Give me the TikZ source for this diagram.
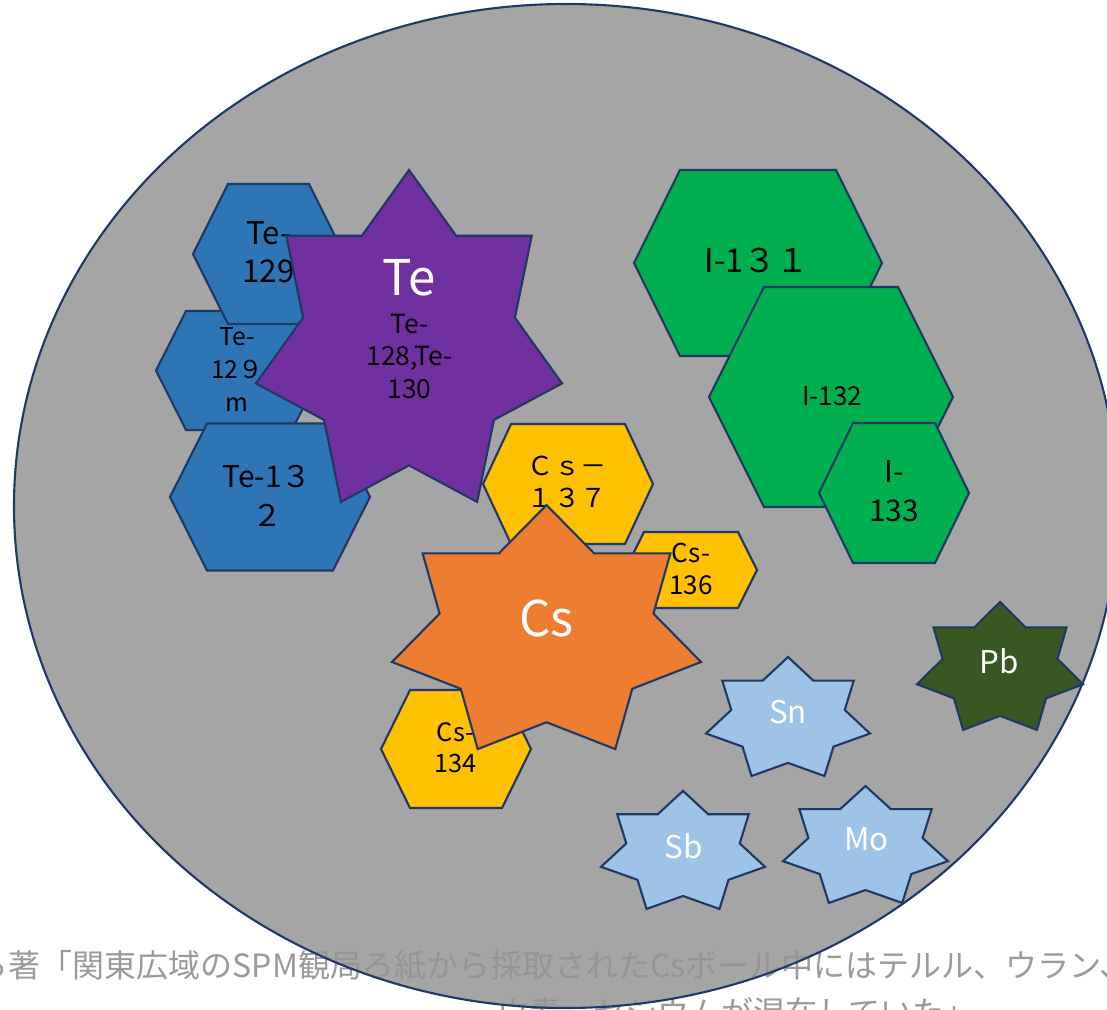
\documentclass[tikz,border=0pt]{standalone}
\usepackage{fontspec}
\setmainfont{Noto Sans CJK JP}
\usepackage{tikz}

\definecolor{rim}{HTML}{203864}
\definecolor{discgray}{HTML}{959595}
\definecolor{capgray}{HTML}{9A9A9A}
\definecolor{teblue}{HTML}{2E75B6}
\definecolor{tepurple}{HTML}{7030A0}
\definecolor{igreen}{HTML}{00B050}
\definecolor{csyellow}{HTML}{FFC000}
\definecolor{csorange}{HTML}{ED7D31}
\definecolor{pbgreen}{HTML}{385723}
\definecolor{lightblue}{HTML}{9DC3E6}

% hexagon: centre x, centre y, half width, half height, inset, fill
\newcommand{\hexa}[6]{%
  \draw[shapeline,fill=#6] ({#1-#3},#2) -- ({#1-#3+#5},{#2-#4}) -- ({#1+#3-#5},{#2-#4})
    -- ({#1+#3},#2) -- ({#1+#3-#5},{#2+#4}) -- ({#1-#3+#5},{#2+#4}) -- cycle;}

% seven point star: centre x, centre y, x radius, y radius, fill
\newcommand{\hepta}[5]{%
  \begin{scope}[shift={(#1,#2)},xscale=#3,yscale=#4]
    \draw[shapeline,fill=#5] (-90:1) \foreach \k in {0,...,6}
      { -- ({-90+\k*360/7+180/7}:0.692) -- ({-90+(\k+1)*360/7}:1) } -- cycle;
  \end{scope}}

\begin{document}
\begin{tikzpicture}[x=0.01cm,y=-0.01cm,
   shapeline/.style={draw=rim,line width=0.6pt},
   tag/.style={inner sep=0pt,align=center},
   elem/.style={inner sep=0pt,text=white},
   srcnote/.style={anchor=base west,inner sep=0pt,text=capgray,font=\fontsize{9.1}{10}\selectfont}
   ]
  \useasboundingbox (0,0) rectangle (1107,1010);
  \clip (0,0) rectangle (1107,1010);

  % -- source note (under the disc)
  \node[srcnote] (src1) at (-24,977)
    {ら著「関東広域のSPM観局ろ紙から採取されたCsボール中にはテルル、ウラン、};
  \node[srcnote] (src2) at (497,1024)
    {ウ素、セシウムが混在していた」};

  % -- disc
  \draw[shapeline,fill=discgray,fill opacity=0.85] (566,506) ellipse [x radius=552,y radius=502];

  % -- tellurium
  \hexa{239}{370.5}{83}{59.5}{30}{teblue}
  \node[tag,font=\fontsize{7}{9.25}\selectfont] (te129m) at (237,369.5) {Te-\\12９\\m};
  \hexa{268.5}{254}{75.5}{70}{35}{teblue}
  \node[tag,font=\fontsize{8.9}{10.9}\selectfont] (te129) at (268.5,252.5) {Te-\\129};
  \hexa{270}{497}{100}{73.5}{37}{teblue}
  \node[tag,font=\fontsize{8.5}{11.1}\selectfont] (te132) at (267,495.5) {Te-1３\\２};
  \hepta{409}{344.6}{157}{174.6}{tepurple}
  \node[elem,font=\fontsize{14}{16}\selectfont] (te) at (409.5,278) {Te};
  \node[tag,font=\fontsize{7.5}{9.25}\selectfont] (tesum) at (409.5,356.5) {Te-\\128,Te-\\130};

  % -- iodine
  \hexa{758}{263}{124}{93}{46}{igreen}
  \node[tag,font=\fontsize{9.3}{11}\selectfont] (i131) at (757,260.5) {I-1３１};
  \hexa{831}{397}{122}{110}{55}{igreen}
  \node[tag,font=\fontsize{7.4}{9}\selectfont] (i132) at (832,396) {I-132};
  \hexa{894}{493}{75}{70}{34}{igreen}
  \node[tag,font=\fontsize{8.5}{11.1}\selectfont] (i133) at (894,491) {I-\\133};

  % -- caesium
  \hexa{568}{484}{85}{60}{28}{csyellow}
  \node[tag,font=\fontsize{7.4}{9.1}\selectfont] (cs137) at (567,482) {Ｃｓ－\\１３７};
  \hexa{691}{570}{66}{38}{19}{csyellow}
  \node[tag,font=\fontsize{7.4}{9.1}\selectfont] (cs136) at (691,569) {Cs-\\136};
  \hexa{456}{749}{75}{59}{29}{csyellow}
  \node[tag,font=\fontsize{7.2}{8.8}\selectfont] (cs134) at (455.5,747.5) {Cs-\\134};
  \hepta{546.5}{633.4}{158.5}{128.4}{csorange}
  \node[elem,font=\fontsize{14}{16}\selectfont] (cs) at (546.5,618) {Cs};

  % -- other elements
  \hepta{788}{719.6}{84.1}{62.6}{lightblue}
  \node[elem,font=\fontsize{8.9}{10}\selectfont] (sn) at (788,712) {Sn};
  \hepta{1000}{669.3}{85.1}{67.3}{pbgreen}
  \node[elem,font=\fontsize{8.9}{10}\selectfont] (pb) at (999.5,661) {Pb};
  \hepta{683}{853}{84.1}{62.1}{lightblue}
  \node[elem,font=\fontsize{8.9}{10}\selectfont] (sb) at (683.5,846) {Sb};
  \hepta{865.5}{847.5}{84.6}{61.5}{lightblue}
  \node[elem,font=\fontsize{8.9}{10}\selectfont] (mo) at (866.5,839.5) {Mo};
\end{tikzpicture}
\end{document}
